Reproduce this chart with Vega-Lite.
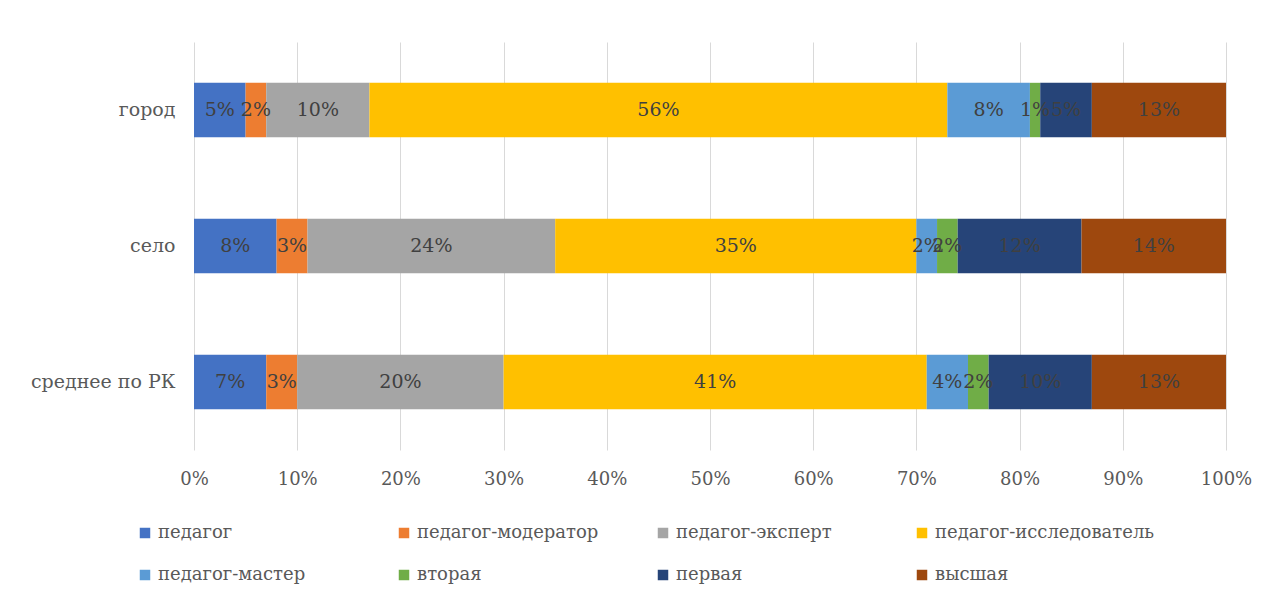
{
  "$schema": "https://vega.github.io/schema/vega-lite/v6.json",
  "autosize": {"type": "none"},
  "padding": {"left": 194, "top": 42, "right": 45, "bottom": 148},
  "width": 1032,
  "height": 408,
  "background": "white",
  "config": {
    "view": {"stroke": null},
    "font": "DejaVu Serif"
  },
  "data": {
    "values": [
      {"cat": "город", "level": "педагог", "ord": 1, "value": 0.05},
      {"cat": "город", "level": "педагог-модератор", "ord": 2, "value": 0.02},
      {"cat": "город", "level": "педагог-эксперт", "ord": 3, "value": 0.10},
      {"cat": "город", "level": "педагог-исследователь", "ord": 4, "value": 0.56},
      {"cat": "город", "level": "педагог-мастер", "ord": 5, "value": 0.08},
      {"cat": "город", "level": "вторая", "ord": 6, "value": 0.01},
      {"cat": "город", "level": "первая", "ord": 7, "value": 0.05},
      {"cat": "город", "level": "высшая", "ord": 8, "value": 0.13},
      {"cat": "село", "level": "педагог", "ord": 1, "value": 0.08},
      {"cat": "село", "level": "педагог-модератор", "ord": 2, "value": 0.03},
      {"cat": "село", "level": "педагог-эксперт", "ord": 3, "value": 0.24},
      {"cat": "село", "level": "педагог-исследователь", "ord": 4, "value": 0.35},
      {"cat": "село", "level": "педагог-мастер", "ord": 5, "value": 0.02},
      {"cat": "село", "level": "вторая", "ord": 6, "value": 0.02},
      {"cat": "село", "level": "первая", "ord": 7, "value": 0.12},
      {"cat": "село", "level": "высшая", "ord": 8, "value": 0.14},
      {"cat": "среднее по РК", "level": "педагог", "ord": 1, "value": 0.07},
      {"cat": "среднее по РК", "level": "педагог-модератор", "ord": 2, "value": 0.03},
      {"cat": "среднее по РК", "level": "педагог-эксперт", "ord": 3, "value": 0.20},
      {"cat": "среднее по РК", "level": "педагог-исследователь", "ord": 4, "value": 0.41},
      {"cat": "среднее по РК", "level": "педагог-мастер", "ord": 5, "value": 0.04},
      {"cat": "среднее по РК", "level": "вторая", "ord": 6, "value": 0.02},
      {"cat": "среднее по РК", "level": "первая", "ord": 7, "value": 0.10},
      {"cat": "среднее по РК", "level": "высшая", "ord": 8, "value": 0.13}
    ]
  },
  "encoding": {
    "y": {
      "field": "cat",
      "type": "nominal",
      "sort": ["город", "село", "среднее по РК"],
      "scale": {"paddingInner": 0.6, "paddingOuter": 0.3},
      "axis": {
        "title": null,
        "ticks": false,
        "domain": false,
        "labelFont": "DejaVu Serif",
        "labelFontSize": 19,
        "labelColor": "#595959",
        "labelPadding": 19
      }
    },
    "order": {"field": "ord", "type": "quantitative"}
  },
  "layer": [
    {
      "mark": {"type": "bar"},
      "encoding": {
        "x": {
          "field": "value",
          "type": "quantitative",
          "stack": "normalize",
          "scale": {"domain": [0, 1]},
          "axis": {
            "title": null,
            "format": ".0%",
            "values": [0, 0.1, 0.2, 0.3, 0.4, 0.5, 0.6, 0.7, 0.8, 0.9, 1],
            "ticks": false,
            "domain": false,
            "grid": true,
            "gridColor": "#d9d9d9",
            "gridWidth": 1,
            "labelOverlap": false,
            "labelFlush": false,
            "labelFont": "DejaVu Serif",
            "labelFontSize": 18,
            "labelColor": "#595959",
            "labelPadding": 20
          }
        },
        "color": {
          "field": "level",
          "type": "nominal",
          "sort": ["педагог", "педагог-модератор", "педагог-эксперт", "педагог-исследователь", "педагог-мастер", "вторая", "первая", "высшая"],
          "scale": {
            "domain": ["педагог", "педагог-модератор", "педагог-эксперт", "педагог-исследователь", "педагог-мастер", "вторая", "первая", "высшая"],
            "range": ["#4472C4", "#ED7D31", "#A5A5A5", "#FFC000", "#5B9BD5", "#70AD47", "#264478", "#9E480E"]
          },
          "legend": {
            "title": null,
            "orient": "none",
            "legendX": -58,
            "legendY": 482,
            "direction": "horizontal",
            "columns": 4,
            "gridAlign": "all",
            "symbolType": "square",
            "symbolSize": 110,
            "symbolStrokeWidth": 0,
            "labelFont": "DejaVu Serif",
            "labelFontSize": 18,
            "labelColor": "#595959",
            "labelLimit": 400,
            "labelOffset": 4,
            "rowPadding": 24,
            "columnPadding": 17
          }
        }
      }
    },
    {
      "mark": {"type": "text", "font": "DejaVu Serif", "fontSize": 19, "color": "#404040", "baseline": "middle", "align": "center"},
      "encoding": {
        "x": {"field": "value", "type": "quantitative", "stack": "normalize", "bandPosition": 0.5},
        "text": {"field": "value", "type": "quantitative", "format": ".0%"}
      }
    }
  ]
}
